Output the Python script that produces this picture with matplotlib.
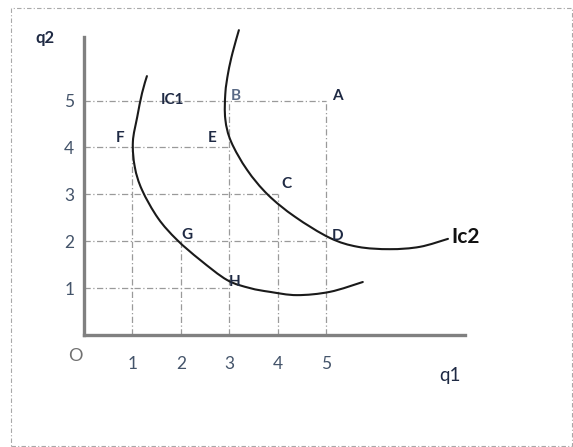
import matplotlib
matplotlib.use("Agg")
import matplotlib.pyplot as plt
from matplotlib.patches import Rectangle, PathPatch
from matplotlib.path import Path

plt.rcParams['font.family'] = ['Lato', 'DejaVu Sans']

# ---- data ----
ticks = [1, 2, 3, 4, 5]
tick_labels = ["1", "2", "3", "4", "5"]

point_names = ["A", "B", "C", "D", "E", "F", "G", "H"]
point_q1 = [5, 3, 4, 5, 3, 1, 2, 3]
point_q2 = [5, 5, 3, 2, 4, 4, 2, 1]

ic1_q1 = [1.30, 1.20, 1.10, 1.01, 1.05, 1.20, 1.53, 1.92, 2.40, 2.96, 3.43, 3.84, 4.40, 5.08, 5.76]
ic1_q2 = [5.52, 5.16, 4.65, 4.12, 3.58, 3.09, 2.49, 2.03, 1.60, 1.17, 1.00, 0.92, 0.85, 0.92, 1.13]

ic2_q1 = [3.20, 3.07, 2.98, 2.92, 2.92, 3.04, 3.37, 3.80, 4.36, 5.08, 5.66, 6.32, 6.94, 7.52]
ic2_q2 = [6.50, 6.02, 5.60, 5.15, 4.60, 4.12, 3.52, 2.99, 2.52, 2.07, 1.88, 1.83, 1.88, 2.05]

# ---- figure ----
W, H = 573, 447
fig = plt.figure(figsize=(W / 100, H / 100), dpi=100)
fig.patch.set_facecolor("white")

ox, oy, xe, yt = 84, 335, 465, 37
ax = fig.add_axes([ox / W, (H - oy) / H, (xe - ox) / W, (oy - yt) / H])
ax.set_xlim(0, (xe - ox) / 48.4)
ax.set_ylim(0, (oy - yt) / 46.9)
ax.set_facecolor("none")

for s in ["top", "right"]:
    ax.spines[s].set_visible(False)
for s in ["left", "bottom"]:
    ax.spines[s].set_color("#808080")
    ax.spines[s].set_linewidth(2.4)

tick_color = "#44546A"
ax.set_xticks(ticks)
ax.set_xticklabels(tick_labels)
ax.set_yticks(ticks)
ax.set_yticklabels(tick_labels)
ax.tick_params(axis="x", length=0, pad=15, labelsize=12.5, labelcolor=tick_color)
ax.tick_params(axis="y", length=0, pad=7, labelsize=12.5, labelcolor=tick_color)

# guide lines from axes to points
gstyle = dict(color="#9a9a9a", lw=0.9, ls=(0, (5, 2, 1, 2)), zorder=1)
pts = dict(zip(point_names, zip(point_q1, point_q2)))
h_ends = {5: "A", 4: "E", 3: "C", 2: "D", 1: "H"}
v_ends = {1: "F", 2: "G", 3: "B", 4: "C", 5: "A"}
for yv, name in h_ends.items():
    ax.plot([0, pts[name][0]], [yv, yv], **gstyle)
for xv, name in v_ends.items():
    ax.plot([xv, xv], [0, pts[name][1]], **gstyle)


def smooth_path(xs, ys):
    """Smooth Bezier path through the read points (Catmull-Rom handles)."""
    P = list(zip(xs, ys))
    verts = [P[0]]
    codes = [Path.MOVETO]
    n = len(P)
    for i in range(n - 1):
        p0 = P[i - 1] if i > 0 else P[i]
        p1, p2 = P[i], P[i + 1]
        p3 = P[i + 2] if i + 2 < n else P[i + 1]
        c1 = (p1[0] + (p2[0] - p0[0]) / 6, p1[1] + (p2[1] - p0[1]) / 6)
        c2 = (p2[0] - (p3[0] - p1[0]) / 6, p2[1] - (p3[1] - p1[1]) / 6)
        verts += [c1, c2, p2]
        codes += [Path.CURVE4] * 3
    return Path(verts, codes)


for xs, ys in [(ic1_q1, ic1_q2), (ic2_q1, ic2_q2)]:
    ax.add_patch(PathPatch(smooth_path(xs, ys), fill=False, edgecolor="#1a1a1a",
                           lw=1.5, capstyle="round", joinstyle="round",
                           zorder=3, clip_on=False))

# point labels (offsets in pixels)
lab_color = "#1f2a44"
offsets = {"A": (11, 5), "B": (7, 5), "C": (9, 10), "D": (12, 5),
           "E": (-17, 9), "F": (-12, 9), "G": (6, 6), "H": (5, 6)}
for name, q1, q2 in zip(point_names, point_q1, point_q2):
    dx, dy = offsets[name]
    c = "#5a6a85" if name == "B" else lab_color
    ax.annotate(name, xy=(q1, q2), xytext=(dx * 0.72, dy * 0.72),
                textcoords="offset points", ha="center", va="center",
                fontsize=11, fontweight="bold", color=c, zorder=4)

ax.annotate("IC1", xy=(ic1_q1[1], 5), xytext=(30 * 0.72, 0),
            textcoords="offset points", ha="center", va="center",
            fontsize=11, fontweight="bold", color=lab_color, zorder=4)
ax.annotate("Ic2", xy=(ic2_q1[-1], ic2_q2[-1]), xytext=(18 * 0.72, 2 * 0.72),
            textcoords="offset points", ha="center", va="center",
            fontsize=15, fontweight="bold", color="#111111", zorder=4,
            annotation_clip=False)

# axis names and origin
fig.text(45 / W, 1 - 38 / H, "q2", ha="center", va="center",
         fontsize=12, fontweight="bold", color=lab_color)
fig.text(450 / W, 1 - 376 / H, "q1", ha="center", va="center",
         fontsize=13.5, color="#1f2a44")
fig.text(75 / W, 1 - 356 / H, "O", ha="center", va="center",
         fontsize=13, color="#707070")

# outer dash-dot frame
fig.patches.append(Rectangle((11 / W, 1 / H), 561 / W, 438 / H,
                             transform=fig.transFigure, fill=False,
                             edgecolor="#a8a8a8", lw=0.8,
                             ls=(0, (4, 2, 1, 2))))

fig.savefig("out.png", dpi=100)
